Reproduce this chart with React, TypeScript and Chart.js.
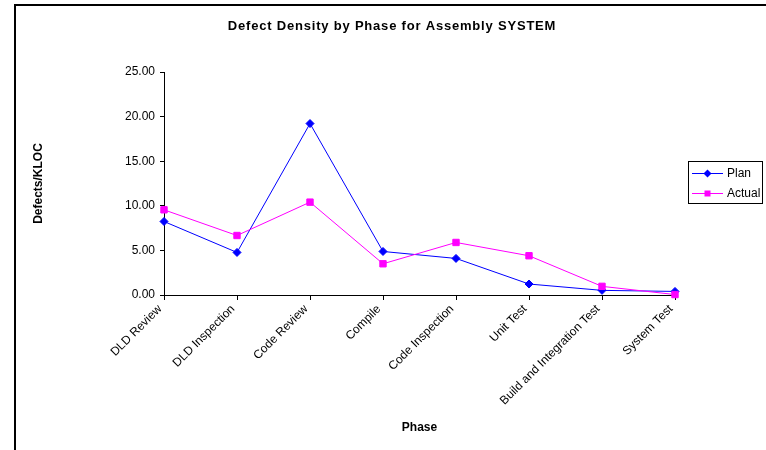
import React, { useEffect, useRef } from "react";
import { Chart, registerables } from "chart.js";

Chart.register(...registerables);

const phases = [
  "DLD Review",
  "DLD Inspection",
  "Code Review",
  "Compile",
  "Code Inspection",
  "Unit Test",
  "Build and Integration Test",
  "System Test",
];
const planValues = [8.24, 4.77, 19.22, 4.88, 4.1, 1.23, 0.52, 0.4];
const actualValues = [9.55, 6.67, 10.41, 3.5, 5.89, 4.4, 0.97, 0.05];
const seriesNames = ["Plan", "Actual"];
const seriesColors = ["#0000FF", "#FF00FF"];
const chartTitle = "Defect Density by Phase for Assembly SYSTEM";
const yAxisTitle = "Defects/KLOC";
const xAxisTitle = "Phase";
const yMin = 0;
const yMax = 25;
const yStep = 5;

const FONT = "'Liberation Sans', Arial, sans-serif";

const decorPlugin = {
  id: "decor",
  beforeDraw(chart: any) {
    const ctx = chart.ctx as CanvasRenderingContext2D;
    ctx.save();
    ctx.fillStyle = "#ffffff";
    ctx.fillRect(0, 0, chart.width, chart.height);
    ctx.strokeStyle = "#000000";
    ctx.lineWidth = 2;
    ctx.strokeRect(15, 5, 800, 500);
    ctx.restore();
  },
  afterDraw(chart: any) {
    const ctx = chart.ctx as CanvasRenderingContext2D;
    ctx.save();
    // title
    ctx.fillStyle = "#000000";
    ctx.font = `bold 13px ${FONT}`;
    (ctx as any).letterSpacing = "0.8px";
    ctx.textAlign = "center";
    ctx.textBaseline = "middle";
    ctx.fillText(chartTitle, 392, 26);
    (ctx as any).letterSpacing = "0px";

    // legend
    ctx.strokeStyle = "#000000";
    ctx.lineWidth = 1;
    ctx.strokeRect(688.5, 161.5, 74, 42);
    const rows = [173, 193];
    seriesNames.forEach((name, i) => {
      const y = rows[i];
      ctx.strokeStyle = seriesColors[i];
      ctx.fillStyle = seriesColors[i];
      ctx.lineWidth = 1;
      ctx.beginPath();
      ctx.moveTo(692, y + 0.5);
      ctx.lineTo(723, y + 0.5);
      ctx.stroke();
      const cx = 707.5;
      ctx.beginPath();
      if (i === 0) {
        ctx.moveTo(cx - 4, y + 0.5);
        ctx.lineTo(cx, y - 3.5);
        ctx.lineTo(cx + 4, y + 0.5);
        ctx.lineTo(cx, y + 4.5);
        ctx.closePath();
      } else {
        ctx.rect(cx - 3, y - 2.5, 6, 6);
      }
      ctx.fill();
      ctx.fillStyle = "#000000";
      ctx.font = `12px ${FONT}`;
      ctx.textAlign = "left";
      ctx.textBaseline = "middle";
      ctx.fillText(name, 727, y + 0.5);
    });
    ctx.restore();
  },
};

export default function App() {
  const ref = useRef<HTMLCanvasElement>(null);

  useEffect(() => {
    if (!ref.current) return;
    const chart = new Chart(ref.current, {
      type: "line",
      data: {
        labels: phases,
        datasets: [
          {
            label: seriesNames[0],
            data: planValues,
            borderColor: seriesColors[0],
            backgroundColor: seriesColors[0],
            borderWidth: 1,
            pointStyle: "rectRot",
            pointRadius: 4,
            pointBorderWidth: 1,
            tension: 0,
            fill: false,
            clip: false as any,
            order: 1,
          },
          {
            label: seriesNames[1],
            data: actualValues,
            borderColor: seriesColors[1],
            backgroundColor: seriesColors[1],
            borderWidth: 1,
            pointStyle: "rect",
            pointRadius: 4.5,
            pointBorderWidth: 1,
            tension: 0,
            fill: false,
            clip: false as any,
            order: 0,
          },
        ],
      },
      options: {
        animation: false,
        responsive: false,
        devicePixelRatio: 1,
        layout: { padding: { left: 16, top: 72, right: 91, bottom: 0 } },
        plugins: {
          legend: { display: false },
          title: { display: false },
          tooltip: { enabled: false },
        },
        scales: {
          x: {
            type: "category",
            offset: false,
            grid: {
              display: true,
              drawOnChartArea: false,
              drawTicks: true,
              tickLength: 5,
              color: "#000000",
            },
            border: { display: true, color: "#000000", width: 1 },
            ticks: {
              autoSkip: false,
              minRotation: 45,
              maxRotation: 45,
              padding: 2,
              labelOffset: -4,
              color: "#000000",
              font: { family: FONT, size: 12 },
            },
            title: {
              display: true,
              text: xAxisTitle,
              color: "#000000",
              font: { family: FONT, size: 12, weight: "bold" },
              padding: { top: 0, bottom: 15 },
            },
            afterFit(scale: any) {
              scale.height = 155;
            },
          },
          y: {
            min: yMin,
            max: yMax,
            grid: {
              display: true,
              drawOnChartArea: false,
              drawTicks: true,
              tickLength: 4,
              color: "#000000",
            },
            border: { display: true, color: "#000000", width: 1 },
            ticks: {
              stepSize: yStep,
              padding: 5,
              color: "#000000",
              font: { family: FONT, size: 12 },
              callback: (v: any) => Number(v).toFixed(2),
            },
            title: {
              display: true,
              text: yAxisTitle,
              color: "#000000",
              font: { family: FONT, size: 12, weight: "bold" },
              padding: { top: 15, bottom: 0 },
            },
            afterFit(scale: any) {
              scale.width = 148;
            },
          },
        },
      },
      plugins: [decorPlugin],
    });
    return () => chart.destroy();
  }, []);

  return (
    <div
      style={{
        position: "fixed",
        left: 0,
        top: 0,
        width: 766,
        height: 450,
        background: "#ffffff",
        overflow: "hidden",
      }}
    >
      <canvas
        ref={ref}
        width={766}
        height={450}
        style={{ display: "block", width: 766, height: 450 }}
      />
    </div>
  );
}
